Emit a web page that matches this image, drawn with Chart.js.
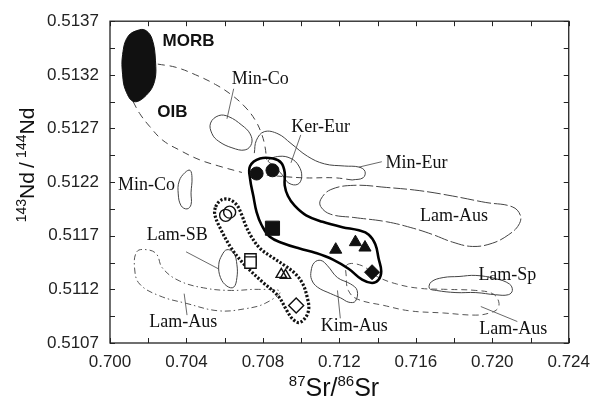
<!DOCTYPE html>
<html>
<head>
<meta charset="utf-8">
<script src="https://cdn.jsdelivr.net/npm/chart.js@4"></script>
<style>
  html, body { margin: 0; padding: 0; background: #fff; }
  #wrap { width: 599px; height: 405px; position: relative; }
</style>
</head>
<body>
<div id="wrap"><canvas id="myChart"></canvas></div>
<script>
// values: x = 87Sr/86Sr, y = 143Nd/144Nd
const morb = [[0.70155, 0.51362], [0.70095, 0.51356], [0.70066, 0.51339], [0.70066, 0.51320], [0.70083, 0.51305], [0.70126, 0.51295], [0.70190, 0.51301], [0.70233, 0.51314], [0.70238, 0.51333], [0.70221, 0.51353], [0.70190, 0.51361]]
const oibUpper = [[0.70250, 0.51330], [0.70345, 0.51327], [0.70448, 0.51320], [0.70552, 0.51311], [0.70638, 0.51301], [0.70707, 0.51290], [0.70759, 0.51278], [0.70793, 0.51265], [0.70811, 0.51253], [0.70819, 0.51241]]
const oibLower = [[0.70121, 0.51295], [0.70155, 0.51284], [0.70207, 0.51272], [0.70276, 0.51259], [0.70362, 0.51250], [0.70466, 0.51241], [0.70569, 0.51235], [0.70690, 0.51229]]
const minCoUpper = [[0.70526, 0.51275], [0.70569, 0.51282], [0.70621, 0.51281], [0.70690, 0.51273], [0.70733, 0.51265], [0.70741, 0.51256], [0.70707, 0.51250], [0.70638, 0.51252], [0.70569, 0.51258], [0.70534, 0.51265]]
const minCoLower = [[0.70393, 0.51229], [0.70419, 0.51231], [0.70429, 0.51224], [0.70424, 0.51210], [0.70424, 0.51199], [0.70403, 0.51195], [0.70372, 0.51198], [0.70357, 0.51209], [0.70362, 0.51221]]
const kerEur = [[0.70828, 0.51240], [0.70884, 0.51244], [0.70947, 0.51242], [0.70988, 0.51235], [0.71003, 0.51225], [0.70983, 0.51218], [0.70936, 0.51219], [0.70900, 0.51227], [0.70859, 0.51235]]
const minEurTop = [[0.70755, 0.51247], [0.70766, 0.51259], [0.70807, 0.51267], [0.70879, 0.51265], [0.70947, 0.51256], [0.71034, 0.51244], [0.71122, 0.51237], [0.71226, 0.51235], [0.71303, 0.51234], [0.71334, 0.51230], [0.71324, 0.51224], [0.71267, 0.51222]]
const minEurBase = [[0.71267, 0.51222], [0.71174, 0.51224], [0.71009, 0.51224], [0.70786, 0.51227]]
const lamAusUpper = [[0.71103, 0.51197], [0.71103, 0.51204], [0.71155, 0.51213], [0.71276, 0.51217], [0.71448, 0.51215], [0.71621, 0.51212], [0.71793, 0.51207], [0.71966, 0.51201], [0.72104, 0.51197], [0.72147, 0.51189], [0.72138, 0.51180], [0.72086, 0.51171], [0.72000, 0.51163], [0.71897, 0.51160], [0.71793, 0.51164], [0.71690, 0.51171], [0.71586, 0.51177], [0.71448, 0.51183], [0.71276, 0.51187], [0.71155, 0.51190]]
const lamAusLeft = [[0.70140, 0.51155], [0.70191, 0.51157], [0.70243, 0.51153], [0.70274, 0.51140], [0.70362, 0.51128], [0.70502, 0.51121], [0.70636, 0.51119], [0.70776, 0.51120], [0.70890, 0.51118], [0.70812, 0.51107], [0.70709, 0.51102], [0.70569, 0.51100], [0.70398, 0.51107], [0.70259, 0.51114], [0.70155, 0.51125], [0.70129, 0.51139]]
const lamAusRight = [[0.71241, 0.51143], [0.71319, 0.51142], [0.71397, 0.51132], [0.71500, 0.51125], [0.71619, 0.51121], [0.71759, 0.51120], [0.71914, 0.51119], [0.72002, 0.51116], [0.72033, 0.51109], [0.72028, 0.51102], [0.71986, 0.51098], [0.71914, 0.51096], [0.71743, 0.51098], [0.71567, 0.51100], [0.71433, 0.51105], [0.71293, 0.51111], [0.71247, 0.51119], [0.71236, 0.51132]]
const lamSB = [[0.70569, 0.51143], [0.70586, 0.51152], [0.70612, 0.51157], [0.70647, 0.51154], [0.70664, 0.51143], [0.70664, 0.51131], [0.70647, 0.51122], [0.70612, 0.51123], [0.70578, 0.51131]]
const kimAus = [[0.71052, 0.51137], [0.71069, 0.51145], [0.71103, 0.51147], [0.71138, 0.51142], [0.71190, 0.51131], [0.71259, 0.51125], [0.71293, 0.51119], [0.71284, 0.51109], [0.71250, 0.51108], [0.71207, 0.51112], [0.71155, 0.51116], [0.71086, 0.51122], [0.71055, 0.51129]]
const lamSp = [[0.71681, 0.51127], [0.71743, 0.51131], [0.71826, 0.51132], [0.71914, 0.51133], [0.72017, 0.51130], [0.72090, 0.51125], [0.72105, 0.51119], [0.72084, 0.51115], [0.72017, 0.51115], [0.71914, 0.51117], [0.71810, 0.51117], [0.71707, 0.51119], [0.71671, 0.51121]]

// fields of this study
const mainField = [[0.70733, 0.51235], [0.70785, 0.51242], [0.70853, 0.51242], [0.70896, 0.51238], [0.70914, 0.51229], [0.70914, 0.51217], [0.70931, 0.51207], [0.70966, 0.51198], [0.71026, 0.51189], [0.71112, 0.51183], [0.71216, 0.51178], [0.71302, 0.51175], [0.71354, 0.51171], [0.71388, 0.51162], [0.71405, 0.51149], [0.71419, 0.51137], [0.71405, 0.51129], [0.71371, 0.51126], [0.71319, 0.51129], [0.71250, 0.51139], [0.71164, 0.51148], [0.71077, 0.51154], [0.70992, 0.51158], [0.70905, 0.51163], [0.70836, 0.51169], [0.70793, 0.51180], [0.70767, 0.51192], [0.70750, 0.51207], [0.70733, 0.51223]]
const dottedField = [[0.70553, 0.51197], [0.70579, 0.51203], [0.70621, 0.51204], [0.70662, 0.51199], [0.70688, 0.51190], [0.70709, 0.51180], [0.70740, 0.51169], [0.70786, 0.51158], [0.70848, 0.51150], [0.70916, 0.51142], [0.70967, 0.51135], [0.71009, 0.51125], [0.71034, 0.51111], [0.71040, 0.51102], [0.71024, 0.51094], [0.70988, 0.51089], [0.70952, 0.51093], [0.70926, 0.51100], [0.70879, 0.51114], [0.70797, 0.51127], [0.70709, 0.51142], [0.70636, 0.51158], [0.70574, 0.51178], [0.70548, 0.51190]]

// samples
const filledCircle = [[0.70767, 0.51228], [0.70850, 0.51231]]
const filledSquare = [[0.70850, 0.51177]]
const filledTriangle = [[0.71181, 0.51157], [0.71284, 0.51164], [0.71334, 0.51159]]
const filledDiamond = [[0.71371, 0.51136]]
const openCircle = [[0.70605, 0.51189], [0.70626, 0.51192]]
const openSquare = [[0.70735, 0.51148], [0.70735, 0.51145]]
const openTriangle = [[0.70896, 0.51134], [0.70918, 0.51133]]
const openDiamond = [[0.70974, 0.51105]]

// leader lines from label to field
const leaders = [
  [[0.70647, 0.51307], [0.70612, 0.51279]],
  [[0.70998, 0.51264], [0.70947, 0.51238]],
  [[0.71422, 0.51239], [0.71303, 0.51234]],
  [[0.70398, 0.51155], [0.70569, 0.51139]],
  [[0.70403, 0.51096], [0.70388, 0.51116]],
  [[0.71205, 0.51093], [0.71190, 0.51119]],
  [[0.71940, 0.51104], [0.72131, 0.51090]]
]

const labelText = ['MORB', 'OIB', 'Min-Co', 'Ker-Eur', 'Min-Eur', 'Min-Co', 'Lam-SB', 'Lam-Aus', 'Lam-Sp', 'Kim-Aus', 'Lam-Aus', 'Lam-Aus']
const labelX = [0.70411, 0.70326, 0.70786, 0.71102, 0.71603, 0.70191, 0.70352, 0.71800, 0.72079, 0.71278, 0.70383, 0.72110]
const labelY = [0.51351, 0.51285, 0.51316, 0.51271, 0.51238, 0.51217, 0.51170, 0.51188, 0.51133, 0.51086, 0.51089, 0.51083]
const labelBold = [true, true, false, false, false, false, false, false, false, false, false, false]

const xTicks = { min: 0.700, max: 0.724, step: 0.002 }
const yTicks = { min: 0.5107, max: 0.5137, step: 0.00025 }

const pts = a => a.map(([x, y]) => ({ x, y }))

// closed curve: pad with neighbours so the spline is smooth at the seam, hide the pads
function loop(a, opts) {
  const n = a.length
  const data = pts([a[n - 1], ...a, a[0], a[1]])
  return Object.assign({
    data, showLine: true, pointRadius: 0, tension: 0.4, fill: false,
    borderColor: '#444', borderWidth: 1,
    segment: { borderColor: c => (c.p0DataIndex === 0 || c.p0DataIndex === n + 1) ? 'rgba(0,0,0,0)' : undefined }
  }, opts)
}
function path(a, opts) {
  return Object.assign({ data: pts(a), showLine: true, pointRadius: 0, tension: 0.4, fill: false, borderColor: '#444', borderWidth: 1 }, opts)
}
function marks(a, style, r, filled) {
  return {
    data: pts(a), showLine: false, pointStyle: style, pointRadius: r,
    backgroundColor: filled ? '#111' : (style === 'rect' || style === 'rectRot' ? '#fff' : 'rgba(255,255,255,0)'),
    borderColor: '#111', borderWidth: filled ? 1 : 1.4
  }
}

const datasets = [
  marks(filledCircle, 'circle', 6.5, true),
  marks(filledSquare, 'rect', 10, true),
  marks(filledTriangle, 'triangle', 7, true),
  marks(filledDiamond, 'rectRot', 7.5, true),
  marks(openCircle, 'circle', 6, false),
  marks(openSquare, 'rect', 8, false),
  marks(openTriangle, 'triangle', 6, false),
  marks(openDiamond, 'rectRot', 7.5, false),
  loop(mainField, { borderColor: '#000', borderWidth: 2.6 }),
  loop(dottedField, { borderColor: '#111', borderWidth: 3.2, borderDash: [2.2, 1.8], tension: 0.35 }),
  loop(morb, { borderColor: '#111', borderWidth: 1, backgroundColor: '#111', fill: 'shape' }),
  path(oibUpper, { borderDash: [7, 5] }),
  path(oibLower, { borderDash: [7, 5] }),
  loop(minCoUpper),
  loop(minCoLower),
  loop(kerEur),
  path(minEurTop),
  path(minEurBase, { borderDash: [6, 4] }),
  loop(lamAusUpper, { borderDash: [14, 3] }),
  loop(lamAusLeft, { borderDash: [6, 3, 1.5, 3], borderColor: '#555' }),
  loop(lamAusRight, { borderDash: [6, 4], borderColor: '#555' }),
  loop(lamSB),
  loop(kimAus),
  loop(lamSp),
  ...leaders.map(l => path(l, { tension: 0, borderWidth: 0.8 }))
]

function drawSup(ctx, parts, x, y, big, small, shift) {
  let w = 0
  parts.forEach(([t, sup]) => { ctx.font = sup ? small : big; w += ctx.measureText(t).width })
  let cx = x - w / 2
  parts.forEach(([t, sup]) => {
    ctx.font = sup ? small : big
    ctx.fillText(t, cx, sup ? y - shift : y)
    cx += ctx.measureText(t).width
  })
}

const decor = {
  id: 'decor',
  afterDatasetsDraw(chart) {
    const { ctx, scales: { x, y } } = chart
    ctx.save()
    ctx.fillStyle = '#111'
    ctx.textBaseline = 'middle'
    ctx.textAlign = 'center'
    labelText.forEach((t, i) => {
      ctx.font = labelBold[i] ? 'bold 17px "Liberation Sans", Arial' : '18px "Liberation Serif", "Times New Roman"'
      ctx.fillText(t, x.getPixelForValue(labelX[i]), y.getPixelForValue(labelY[i]))
    })
    ctx.restore()
  },
  afterDraw(chart) {
    const { ctx, chartArea: a, scales: { x, y } } = chart
    ctx.save()
    ctx.strokeStyle = '#222'
    ctx.lineWidth = 1.3
    ctx.strokeRect(a.left, a.top, a.right - a.left, a.bottom - a.top)
    ctx.lineWidth = 1
    ctx.beginPath()
    x.ticks.forEach(t => {
      const px = Math.round(x.getPixelForValue(t.value)) + 0.5
      ctx.moveTo(px, a.bottom); ctx.lineTo(px, a.bottom - 5)
      ctx.moveTo(px, a.top); ctx.lineTo(px, a.top + 5)
    })
    y.ticks.forEach(t => {
      const py = Math.round(y.getPixelForValue(t.value)) + 0.5
      ctx.moveTo(a.left, py); ctx.lineTo(a.left + 5, py)
      ctx.moveTo(a.right, py); ctx.lineTo(a.right - 5, py)
    })
    ctx.stroke()

    ctx.fillStyle = '#111'
    ctx.textAlign = 'left'
    ctx.textBaseline = 'alphabetic'
    drawSup(ctx, [['87', true], ['Sr/', false], ['86', true], ['Sr', false]], 334, 396,
      '25px "Liberation Sans", Arial', '15px "Liberation Sans", Arial', 10)
    ctx.translate(34, 165)
    ctx.rotate(-Math.PI / 2)
    drawSup(ctx, [['143', true], ['Nd\u2009/\u2009', false], ['144', true], ['Nd', false]], 0, 0,
      '21px "Liberation Sans", Arial', '14px "Liberation Sans", Arial', 8)
    ctx.restore()
  }
}

const tickFont = { family: '"Liberation Sans", Arial', size: 17 }

const config = {
  type: 'scatter',
  data: { datasets },
  options: {
    responsive: true,
    maintainAspectRatio: false,
    animation: false,
    layout: { padding: { top: 16, right: 25, left: 0, bottom: 0 }, autoPadding: false },
    plugins: { legend: { display: false }, tooltip: { enabled: false } },
    scales: {
      x: {
        type: 'linear',
        position: 'bottom',
        min: xTicks.min,
        max: xTicks.max,
        afterFit: s => { s.height = 62 },
        grid: { display: false, drawTicks: false },
        border: { display: false },
        ticks: {
          stepSize: xTicks.step, autoSkip: false, maxRotation: 0, padding: 9, color: '#222', font: tickFont,
          callback: v => Math.round((v - xTicks.min) / xTicks.step) % 2 === 0 ? v.toFixed(3) : ''
        }
      },
      y: {
        type: 'linear',
        position: 'left',
        min: yTicks.min,
        max: yTicks.max,
        afterFit: s => { s.width = 110 },
        grid: { display: false, drawTicks: false },
        border: { display: false },
        ticks: {
          stepSize: yTicks.step, autoSkip: false, padding: 11, color: '#222', font: tickFont,
          callback: v => Math.round((v - yTicks.min) / yTicks.step) % 2 === 0 ? v.toFixed(4) : ''
        }
      }
    }
  },
  plugins: [decor]
}

const myChart = new Chart(document.getElementById('myChart').getContext('2d'), config)
</script>
</body>
</html>
